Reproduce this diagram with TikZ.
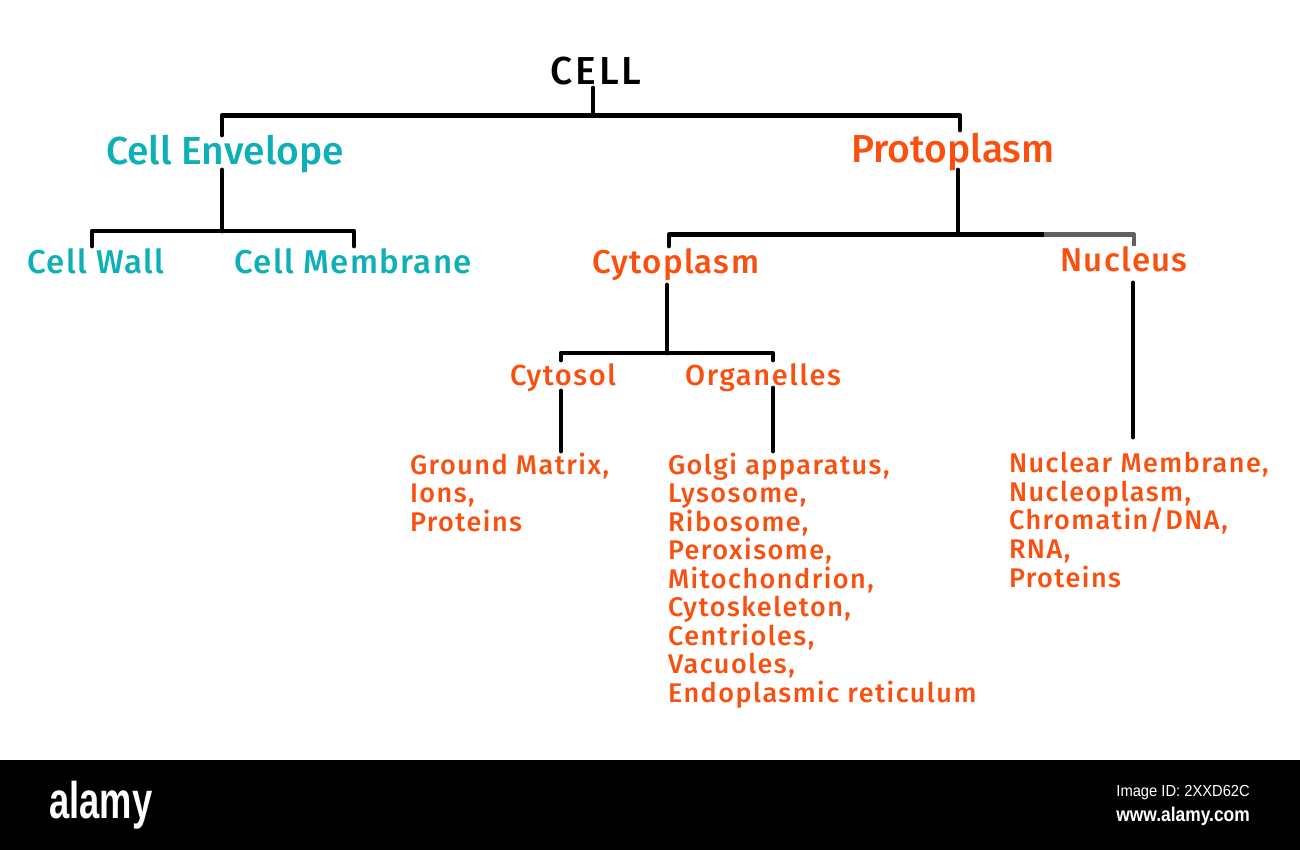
\documentclass[tikz,border=0pt]{standalone}
\usepackage{fontspec}
\setmainfont{Fira Sans Medium}[LetterSpace=0]
\newfontfamily\fontcell{Fira Sans Medium}[LetterSpace=7]
\newfontfamily\fontb{Fira Sans Medium}[LetterSpace=4]
\newfontfamily\fontc{Fira Sans Medium}[LetterSpace=5.5]
\newfontfamily\fontd{Fira Sans Medium}[LetterSpace=5.5]
\newfontfamily\logofont{Liberation Sans Bold}
\newfontfamily\footfont{Liberation Sans}
\definecolor{tealc}{HTML}{0DB0B6}
\definecolor{orangec}{HTML}{F9500F}
\newcommand{\fs}[1]{\fontsize{#1}{#1}\selectfont}
\tikzset{
  x=1pt,y=-1pt,
  box/.style={inner sep=0pt,outer sep=0pt,align=center,anchor=center,text depth=0pt},
  lvA/.style={box,font=\fs{39},text height=28pt},
  lvB/.style={box,font=\fontb\fs{33},text height=24pt},
  lvC/.style={box,font=\fontc\fs{29},text height=21pt},
  item/.style={inner sep=0pt,outer sep=0pt,anchor=north west,align=left,text=orangec,font=\fontd\fontsize{27}{28.55}\selectfont},
  conn/.style={line width=4.8pt,black,line cap=round,line join=round},
}
\begin{document}
\begin{tikzpicture}
\useasboundingbox (0,0) rectangle (1300,850);
\fill[white] (0,0) rectangle (1300,850);
\fill[black] (0,760) rectangle (1300,850);

\node[lvA,text=black,font=\fontcell\fs{39},minimum width=92pt,minimum height=35pt] (cell) at (596,70.5) {CELL};
\node[lvA,text=tealc,minimum width=237pt,minimum height=38pt] (env) at (225,151) {Cell Envelope};
\node[lvA,text=orangec,minimum width=201pt,minimum height=34pt] (proto) at (953,149) {Protoplasm};
\node[lvB,text=tealc,minimum width=140pt,minimum height=30pt] (wall) at (96,261) {Cell Wall};
\node[lvB,text=tealc,minimum width=241pt,minimum height=30pt] (memb) at (353,261) {Cell Membrane};
\node[lvB,text=orangec,minimum width=167pt,minimum height=30pt] (cyto) at (676,261) {Cytoplasm};
\node[lvB,text=orangec,minimum width=128pt,minimum height=30pt] (nuc) at (1124,260) {Nucleus};
\node[lvC,text=orangec,minimum width=109pt,minimum height=28pt] (sol) at (563,375) {Cytosol};
\node[lvC,text=orangec,minimum width=158pt,minimum height=28pt] (org) at (763,375) {Organelles};

\node[item] (ground) at (410,452.5) {Ground Matrix,\\Ions,\\Proteins};
\node[item] (golgi) at (668,452.5) {Golgi apparatus,\\Lysosome,\\Ribosome,\\Peroxisome,\\Mitochondrion,\\Cytoskeleton,\\Centrioles,\\Vacuoles,\\Endoplasmic reticulum};
\node[item] (nlist) at (1009,452.5) {Nuclear Membrane,\\Nucleoplasm,\\Chromatin/DNA,\\RNA,\\Proteins};

\node[anchor=center,text=white,inner sep=0pt,font=\logofont\fs{46}] (logo) at (101,805) {\scalebox{0.79}[1.12]{alamy}};
\node[anchor=east,text=white,inner sep=0pt,font=\footfont\fs{16}] (imgid) at (1250,793) {\scalebox{0.92}[1]{Image ID: 2XXD62C}};
\node[anchor=east,text=white,inner sep=0pt,font=\logofont\fs{20}] (web) at (1250,816) {\scalebox{0.87}[1]{www.alamy.com}};

\coordinate (j0) at (593,115.5);
\coordinate (j1) at (222,231);
\coordinate (j2) at (958,234.5);
\coordinate (j3) at (667,353);
\draw[conn] ([xshift=-3pt]cell.south) -- (j0);
\draw[conn] ([xshift=-3pt,yshift=-3pt]env.north) -- ([xshift=-3pt]env.north |- j0) -- ([xshift=7pt]proto.north |- j0) -- ([xshift=7pt,yshift=2pt]proto.north);
\draw[conn] ([xshift=-3pt]env.south) -- (j1);
\draw[conn] ([xshift=-4pt]wall.north) -- ([xshift=-4pt]wall.north |- j1) -- ([xshift=1pt]memb.north |- j1) -- ([xshift=1pt]memb.north);
\draw[conn] ([xshift=5pt,yshift=-4pt]proto.south) -- (j2);
\draw[conn] ([xshift=-7pt]cyto.north) -- ([xshift=-7pt]cyto.north |- j2) -- ([xshift=-80pt]nuc.north |- j2);
\draw[conn,line width=4.4pt,color=black!62,line cap=butt] ([xshift=-80pt]nuc.north |- j2) -- ([xshift=10pt]nuc.north |- j2) -- ([xshift=10pt,yshift=-1pt]nuc.north);
\draw[conn] ([xshift=-9pt,yshift=-9pt]cyto.south) -- (j3);
\draw[conn] ([xshift=-2pt,yshift=1pt]sol.north) -- ([xshift=-2pt]sol.north |- j3) -- ([xshift=10pt]org.north |- j3) -- ([xshift=10pt,yshift=1pt]org.north);
\draw[conn] ([xshift=9pt,yshift=-8pt]nuc.south) -- ([xshift=9pt,yshift=15.5pt]nuc.south |- nlist.north);
\draw[conn] ([xshift=-2pt,yshift=-2pt]sol.south) -- ([xshift=-2pt,yshift=1.5pt]sol.south |- ground.north);
\draw[conn] ([xshift=10pt,yshift=1pt]org.south) -- ([xshift=10pt,yshift=1.5pt]org.south |- golgi.north);
\end{tikzpicture}
\end{document}
